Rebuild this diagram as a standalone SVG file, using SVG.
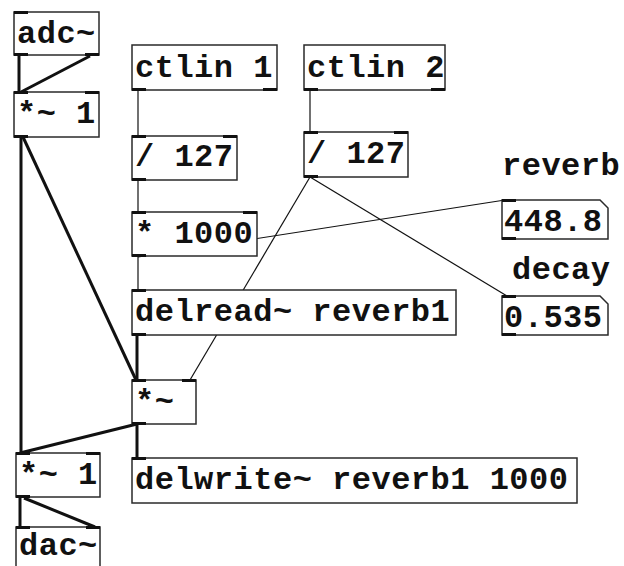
<svg xmlns="http://www.w3.org/2000/svg" width="624" height="566" viewBox="0 0 624 566">
<style>
.box{fill:#fff;stroke:#2a2a2a;stroke-width:1.5}
.io{fill:#111}
.sig{stroke:#111;stroke-width:3;fill:none}
.ctl{stroke:#111;stroke-width:1.2;fill:none}
.t{font-family:"Liberation Mono","DejaVu Sans Mono",monospace;font-weight:bold;font-size:32px;letter-spacing:0.5px;fill:#111}
</style>
<rect x="0" y="0" width="624" height="566" fill="#fff"/>
<g id="connectors">
<line class="sig" x1="19" y1="55" x2="19" y2="92"/>
<line class="sig" x1="90" y1="56" x2="21" y2="92"/>
<line class="sig" x1="21" y1="137" x2="21" y2="453"/>
<line class="sig" x1="23" y1="137" x2="136" y2="380"/>
<line class="sig" x1="137" y1="335" x2="137" y2="380"/>
<line class="sig" x1="137" y1="424" x2="20" y2="453"/>
<line class="sig" x1="137" y1="424" x2="137" y2="458"/>
<line class="sig" x1="20" y1="497" x2="20" y2="527"/>
<line class="sig" x1="24" y1="498" x2="95" y2="527"/>
<line class="ctl" x1="138" y1="90" x2="138" y2="136"/>
<line class="ctl" x1="138" y1="180" x2="138" y2="212"/>
<line class="ctl" x1="138" y1="256" x2="138" y2="290"/>
<line class="ctl" x1="138" y1="257" x2="505" y2="200"/>
<line class="ctl" x1="310" y1="90" x2="310" y2="132"/>
<line class="ctl" x1="310" y1="177" x2="190" y2="380"/>
<line class="ctl" x1="310" y1="177" x2="507" y2="296"/>
</g>
<g id="adc">
<rect class="box" x="14" y="12" width="85" height="43"/>
<rect class="io" x="14" y="11" width="14" height="3"/>
<rect class="io" x="14" y="53" width="14" height="3"/>
<rect class="io" x="85" y="53" width="14" height="3"/>
<text class="t" x="17" y="43">adc~</text>
</g>
<g id="mul1a">
<rect class="box" x="14" y="92" width="85" height="45"/>
<rect class="io" x="14" y="91" width="14" height="3"/>
<rect class="io" x="85" y="91" width="14" height="3"/>
<rect class="io" x="14" y="135" width="14" height="3"/>
<text class="t" x="17" y="123">*~ 1</text>
</g>
<g id="ctlin1">
<rect class="box" x="132" y="45" width="145" height="45"/>
<rect class="io" x="132" y="88" width="14" height="3"/>
<rect class="io" x="263" y="88" width="14" height="3"/>
<text class="t" x="135" y="77">ctlin 1</text>
</g>
<g id="ctlin2">
<rect class="box" x="304" y="45" width="141" height="45"/>
<rect class="io" x="304" y="88" width="14" height="3"/>
<rect class="io" x="431" y="88" width="14" height="3"/>
<text class="t" x="307" y="77">ctlin 2</text>
</g>
<g id="div1">
<rect class="box" x="132" y="136" width="105" height="44"/>
<rect class="io" x="132" y="135" width="14" height="3"/>
<rect class="io" x="223" y="135" width="14" height="3"/>
<rect class="io" x="132" y="178" width="14" height="3"/>
<text class="t" x="135" y="166">/ 127</text>
</g>
<g id="div2">
<rect class="box" x="304" y="132" width="104" height="45"/>
<rect class="io" x="304" y="131" width="14" height="3"/>
<rect class="io" x="394" y="131" width="14" height="3"/>
<rect class="io" x="304" y="175" width="14" height="3"/>
<text class="t" x="307" y="163">/ 127</text>
</g>
<g id="mul1000">
<rect class="box" x="132" y="212" width="125" height="44"/>
<rect class="io" x="132" y="211" width="14" height="3"/>
<rect class="io" x="243" y="211" width="14" height="3"/>
<rect class="io" x="132" y="254" width="14" height="3"/>
<text class="t" x="135" y="243">* 1000</text>
</g>
<g id="delread">
<rect class="box" x="132" y="290" width="324" height="45"/>
<rect class="io" x="132" y="289" width="14" height="3"/>
<rect class="io" x="132" y="333" width="14" height="3"/>
<text class="t" x="135" y="321">delread~ reverb1</text>
</g>
<g id="mulsig">
<rect class="box" x="132" y="380" width="64" height="44"/>
<rect class="io" x="132" y="379" width="14" height="3"/>
<rect class="io" x="182" y="379" width="14" height="3"/>
<rect class="io" x="132" y="422" width="14" height="3"/>
<text class="t" x="135" y="411">*~</text>
</g>
<g id="mul1b">
<rect class="box" x="16" y="453" width="84" height="44"/>
<rect class="io" x="16" y="452" width="14" height="3"/>
<rect class="io" x="86" y="452" width="14" height="3"/>
<rect class="io" x="16" y="495" width="14" height="3"/>
<text class="t" x="19" y="484">*~ 1</text>
</g>
<g id="delwrite">
<rect class="box" x="132" y="458" width="445" height="45"/>
<rect class="io" x="132" y="457" width="14" height="3"/>
<text class="t" x="135" y="489">delwrite~ reverb1 1000</text>
</g>
<g id="dac">
<rect class="box" x="16" y="527" width="84" height="50"/>
<rect class="io" x="16" y="526" width="14" height="3"/>
<rect class="io" x="86" y="526" width="14" height="3"/>
<text class="t" x="19" y="555">dac~</text>
</g>
<g id="num_reverb">
<path class="box" d="M502,200 H600 L608,208 V239 H502 Z"/>
<rect class="io" x="502" y="199" width="14" height="3"/>
<rect class="io" x="502" y="237" width="14" height="3"/>
<text class="t" x="504" y="231">448.8</text>
</g>
<g id="num_decay">
<path class="box" d="M502,296 H600 L608,304 V335 H502 Z"/>
<rect class="io" x="502" y="295" width="14" height="3"/>
<rect class="io" x="502" y="333" width="14" height="3"/>
<text class="t" x="504" y="327">0.535</text>
</g>
<g id="labels">
<text class="t" x="502" y="175">reverb</text>
<text class="t" x="512" y="279">decay</text>
</g>
</svg>
